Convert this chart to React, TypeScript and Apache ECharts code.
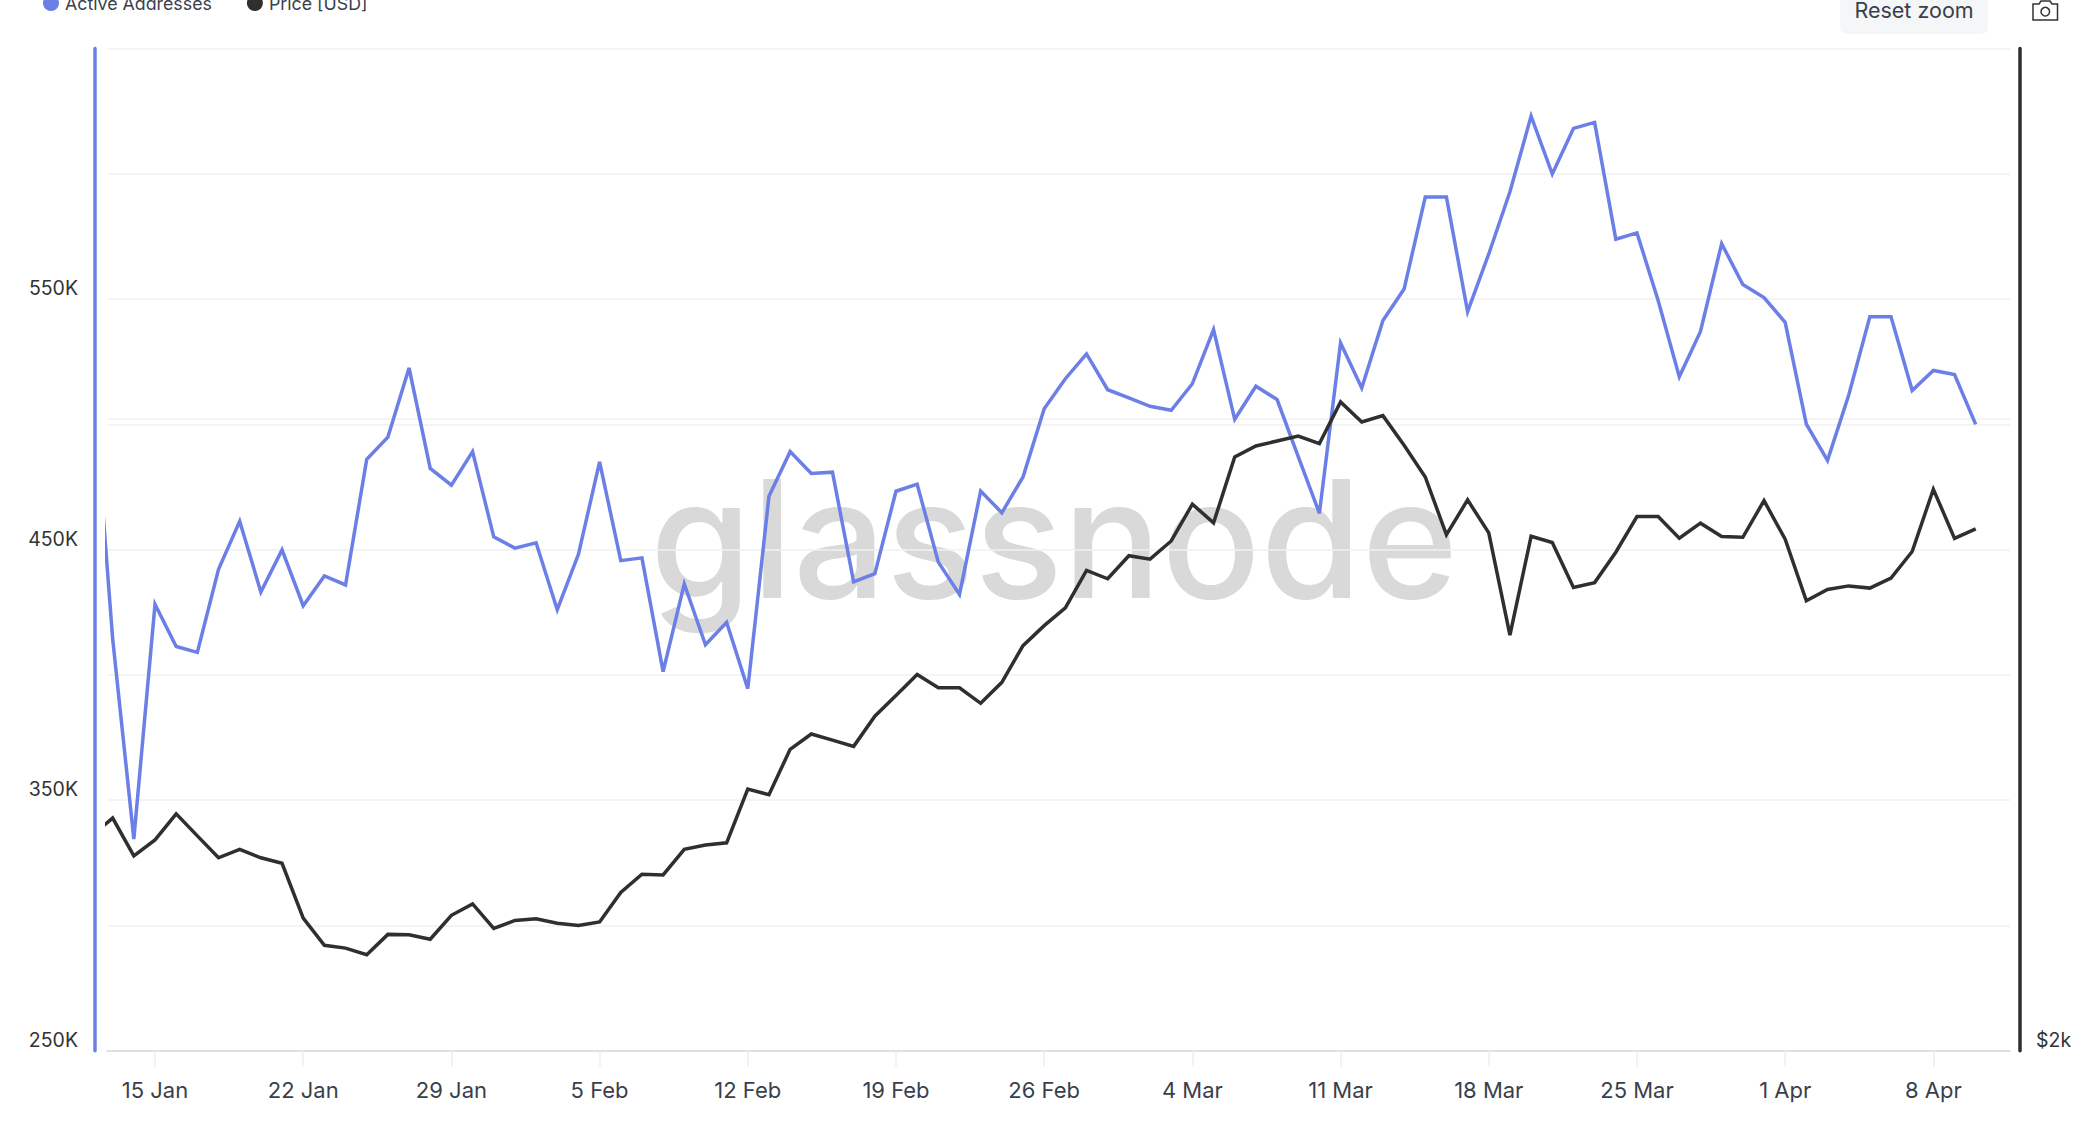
import React, { useEffect, useRef } from "react";
import * as echarts from "echarts";

const seriesNames = ["Active Addresses", "Price [USD]"];
const firstDay = "2024-01-12";
const tickDates = ["2024-01-15","2024-01-22","2024-01-29","2024-02-05","2024-02-12","2024-02-19","2024-02-26","2024-03-04","2024-03-11","2024-03-18","2024-03-25","2024-04-01","2024-04-08"];
const tickLabels = ["15 Jan","22 Jan","29 Jan","5 Feb","12 Feb","19 Feb","26 Feb","4 Mar","11 Mar","18 Mar","25 Mar","1 Apr","8 Apr"];
const leftLabels = ["250K","350K","450K","550K"];
const leftLabelValues = [250000,350000,450000,550000];

const addresses = [
525000,414400,334500,428200,411300,409000,442100,461300,433100,449900,427600,439500,435900,486000,494900,522500,482400,475700,489100,455100,
450600,452700,426000,448100,485000,445600,446700,401300,436300,412000,421000,394500,471300,489100,480400,480900,437100,440400,473300,476100,445000,432100,473400,464700,479000,506200,518200,528100,513800,
510600,507200,505600,516200,537800,502000,515200,509900,487100,464500,532500,514500,541400,554000,590700,590700,545000,568000,592800,623000,599900,618100,620500,573900,576400,549400,519000,537100,572100,555800,550600,
540700,500100,485600,511600,542900,542900,513500,521500,519900,500000];

const price = [
2531,2581,2476,2520,2593,2531,2471,2494,2471,2456,2313,2245,2238,2222,2272,2271,2260,2320,2349,2287,
2307,2311,2300,2294,2303,2379,2427,2425,2494,2506,2512,2664,2648,2783,2830,2811,2792,2886,2952,3021,2977,2977,2927,2995,3118,3187,3250,3386,3355,
3441,3428,3497,3641,3567,3834,3881,3902,3923,3891,4073,3984,4012,3884,3751,3521,3658,3528,3154,3515,3491,3323,3341,3454,3592,3592,3508,3566,3514,3511,3655,
3504,3275,3316,3329,3321,3358,3457,3701,3507,3544];

const DAY = 86400000;
const utc = (s: string) => Date.parse(s + "T00:00:00Z");
const days = addresses.map((_, i) => utc(firstDay) + i * DAY);
const ticks = tickDates.map(utc);

const FONT = "Inter";
const BLUE = "#6b7fe6";
const DARK = "#2f2f2f";

export default function App() {
  const ref = useRef<HTMLDivElement>(null);
  useEffect(() => {
    const chart = echarts.init(ref.current!, null, { renderer: "svg" });
    chart.setOption({
      animation: false,
      backgroundColor: "#ffffff",
      textStyle: { fontFamily: FONT },
      grid: { left: 107.5, right: 67, top: 48.5, bottom: 84.3 },
      legend: {
        left: 38, top: -11, icon: "circle", itemWidth: 16, itemHeight: 16, itemGap: 35,
        selectedMode: false,
        data: seriesNames,
        textStyle: { fontFamily: FONT, fontSize: 17.8, color: "#3a3f4c", padding: [0, 0, 0, 1] },
      },
      xAxis: {
        type: "value",
        min: ticks[0] - 2.244 * DAY,
        max: ticks[12] + 3.62 * DAY,
        axisLine: { show: true, onZero: false, lineStyle: { color: "#e0e0e0", width: 2 } },
        axisTick: { show: true, length: 16, lineStyle: { color: "#eeeeee", width: 1.5 }, customValues: ticks },
        axisLabel: {
          customValues: ticks, margin: 28, fontSize: 22, fontFamily: FONT, color: "#3a3f4c",
          formatter: (v: number) => tickLabels[ticks.indexOf(v)] ?? "",
        },
        splitLine: { show: false },
      },
      yAxis: [
        {
          type: "value", min: 250000, max: 650000, interval: 50000, offset: 12.5,
          axisLine: { show: true, onZero: false, lineStyle: { color: BLUE, width: 3.5 } },
          axisTick: { show: false },
          axisLabel: {
            margin: 17, fontSize: 19.5, fontFamily: FONT, color: "#333333", verticalAlign: "bottom", padding: [0, 0, 1, 0],
            formatter: (v: number) => { const i = leftLabelValues.indexOf(v); return i >= 0 ? leftLabels[i] : ""; },
          },
          splitLine: { show: true, lineStyle: { color: "#f0f0f0", width: 1.5 } },
        },
        {
          type: "log", logBase: 2, min: 2000, max: 6000, position: "right", offset: 10,
          axisLine: { show: true, onZero: false, lineStyle: { color: DARK, width: 3.5 } },
          axisTick: { show: false },
          axisLabel: {
            customValues: [2000], margin: 16, fontSize: 19.5, fontFamily: FONT, color: "#333333", verticalAlign: "bottom", padding: [0, 0, 1, 0],
            formatter: () => "$2k",
          },
          splitLine: { show: false },
        },
      ],
      series: [
        {
          name: seriesNames[0], type: "line", yAxisIndex: 0, showSymbol: false, symbol: "none",
          data: days.map((d, i) => [d, addresses[i]]),
          itemStyle: { color: BLUE },
          lineStyle: { color: BLUE, width: 3.5, join: "miter", miterLimit: 4 }, z: 3,
        },
        {
          name: seriesNames[1], type: "line", yAxisIndex: 1, showSymbol: false, symbol: "none",
          data: days.map((d, i) => [d, price[i]]),
          itemStyle: { color: DARK },
          lineStyle: { color: DARK, width: 3.5, join: "miter", miterLimit: 4 }, z: 4,
          markLine: {
            silent: true, symbol: "none", label: { show: false }, z: 1,
            lineStyle: { color: "#f0f0f0", width: 1.5, type: "solid" },
            data: [{ yAxis: 4000 }],
          },
        },
      ],
      graphic: [
        {
          type: "text", left: 650, top: 456, z: 0, silent: true,
          style: { text: "glassnode", fontFamily: FONT, fontSize: 164, fontWeight: 500, fill: "#d9d9d9" },
        },
        { type: "rect", shape: { x: 1840, y: -10, width: 148, height: 44, r: 7 }, style: { fill: "#f5f6f8" } },
        {
          type: "text", x: 1914, y: 10, z: 2,
          style: { text: "Reset zoom", fontFamily: FONT, fontSize: 21.5, fill: "#3a3f4c", align: "center", verticalAlign: "middle" },
        },
        {
          type: "polygon",
          shape: { points: [[2033, 4], [2039, 4], [2041, 1], [2050, 1], [2052, 4], [2057.5, 4], [2057.5, 20], [2033, 20]] },
          style: { fill: "none", stroke: "#333333", lineWidth: 1.5 },
        },
        { type: "circle", shape: { cx: 2045.3, cy: 11.7, r: 4.3 }, style: { fill: "none", stroke: "#333333", lineWidth: 1.5 } },
      ],
    });
    return () => chart.dispose();
  }, []);
  return <div ref={ref} style={{ position: "absolute", left: 0, top: 0, width: 2077, height: 1135 }} />;
}
